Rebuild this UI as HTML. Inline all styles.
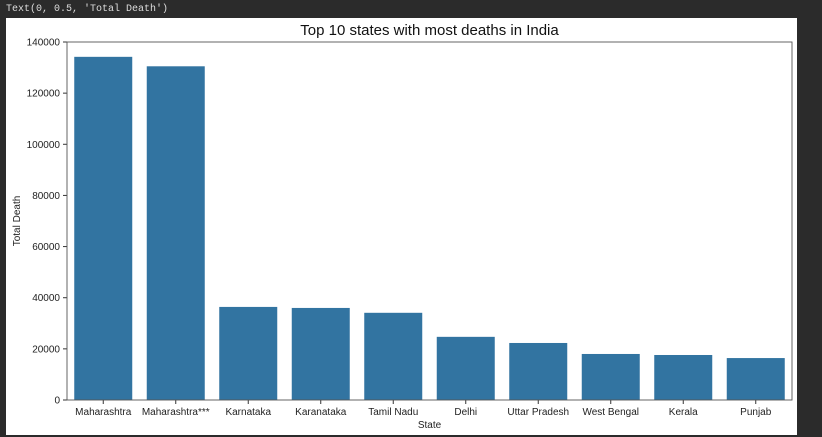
<!DOCTYPE html>
<html><head><style>
body{margin:0;width:822px;height:437px;background:#2b2b2b;overflow:hidden;font-family:"Liberation Sans",sans-serif}
</style></head><body>
<div style="position:absolute;left:6px;top:4px;font:10px 'Liberation Mono',monospace;color:#ddd">Text(0, 0.5, 'Total Death')</div>
<svg style="position:absolute;left:0;top:0" width="822" height="437">
<rect x="6" y="18" width="791" height="417" fill="#fff"/>
<g id="g"></g>
</svg>
<script>
const categories=["Maharashtra","Maharashtra***","Karnataka","Karanataka","Tamil Nadu","Delhi","Uttar Pradesh","West Bengal","Kerala","Punjab"];
const deaths=[134200,130500,36400,36000,34100,24700,22300,18000,17600,16400];
const yTicks=[0,20000,40000,60000,80000,100000,120000,140000];
const L=67,R=792,T=42,B=400,yMax=140000;
const y=v=>B-v/yMax*(B-T);
const step=(R-L)/categories.length;
const x=i=>L+step*(i+0.5);
const g=document.getElementById('g');
const NS='http://www.w3.org/2000/svg';
function mk(t,a,txt){const e=document.createElementNS(NS,t);for(const k in a)e.setAttribute(k,a[k]);if(txt!=null)e.textContent=txt;g.appendChild(e);return e;}
categories.forEach((c,i)=>{
 const b=mk('rect',{x:x(i)-step*0.4,y:y(deaths[i]),width:step*0.8,height:B-y(deaths[i]),fill:'#3274a1'});
 
 
 const tk=mk('line',{x1:x(i),x2:x(i),y1:B,y2:B+4,stroke:'#333'});
 
 
 const l=mk('text',{x:x(i),y:B+15,'text-anchor':'middle','font-size':10,fill:'#222'},c);
 
 
});
yTicks.forEach(v=>{
 const tk=mk('line',{x1:L-4,x2:L,y1:y(v),y2:y(v),stroke:'#333'});
 
 
 const l=mk('text',{x:L-7,y:y(v)+3.5,'text-anchor':'end','font-size':10,fill:'#222'},v);
 
 
});
const f=mk('rect',{x:L,y:T,width:R-L,height:B-T,fill:'none',stroke:'#555','stroke-width':0.9});


const t=mk('text',{x:(L+R)/2,y:35,'text-anchor':'middle','font-size':15,fill:'#111'},'Top 10 states with most deaths in India');


const xl=mk('text',{x:(L+R)/2,y:428,'text-anchor':'middle','font-size':10,fill:'#222'},'State');


const yl=mk('text',{x:0,y:0,'text-anchor':'middle','font-size':10,fill:'#222',transform:'translate(20,'+((T+B)/2)+') rotate(-90)'},'Total Death');


</script>
</body></html>
